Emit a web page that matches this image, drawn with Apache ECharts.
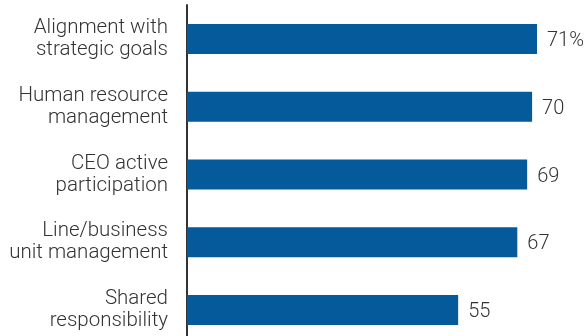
<!DOCTYPE html>
<html>
<head>
<meta charset="utf-8">
<script src="https://cdn.jsdelivr.net/npm/echarts@6/dist/echarts.min.js"></script>
<style>html,body{margin:0;padding:0;background:#fff}#c{width:584px;height:336px}</style>
</head>
<body>
<div id="c"></div>
<script>
var categories = ["Alignment with\nstrategic goals", "Human resource\nmanagement", "CEO active\nparticipation", "Line/business\nunit management", "Shared\nresponsibility"];
var values = [71, 70, 69, 67, 55];
var valueLabels = ["71%", "70", "69", "67", "55"];

var chart = echarts.init(document.getElementById('c'), null, {renderer: 'canvas'});
chart.setOption({
  animation: false,
  grid: {left: 187, top: 5, width: 394.4, height: 339, containLabel: false, outerBoundsMode: 'none'},
  xAxis: {type: 'value', min: 0, max: 80, show: false},
  yAxis: {
    type: 'category', data: categories, inverse: true,
    axisLine: {show: true, lineStyle: {color: '#333', width: 2}},
    axisTick: {show: false},
    axisLabel: {color: '#333', fontFamily: 'Roboto', fontWeight: 300, fontSize: 20.5, lineHeight: 22, margin: 19, align: 'right'}
  },
  series: [{
    type: 'bar', data: values, barWidth: 30,
    itemStyle: {color: '#045A9B'},
    label: {
      show: true, position: 'right', distance: 10, offset: [0, 2],
      color: '#333', fontFamily: 'Roboto', fontWeight: 300, fontSize: 20,
      formatter: function (p) { return valueLabels[p.dataIndex]; }
    }
  }]
});
</script>
</body>
</html>
